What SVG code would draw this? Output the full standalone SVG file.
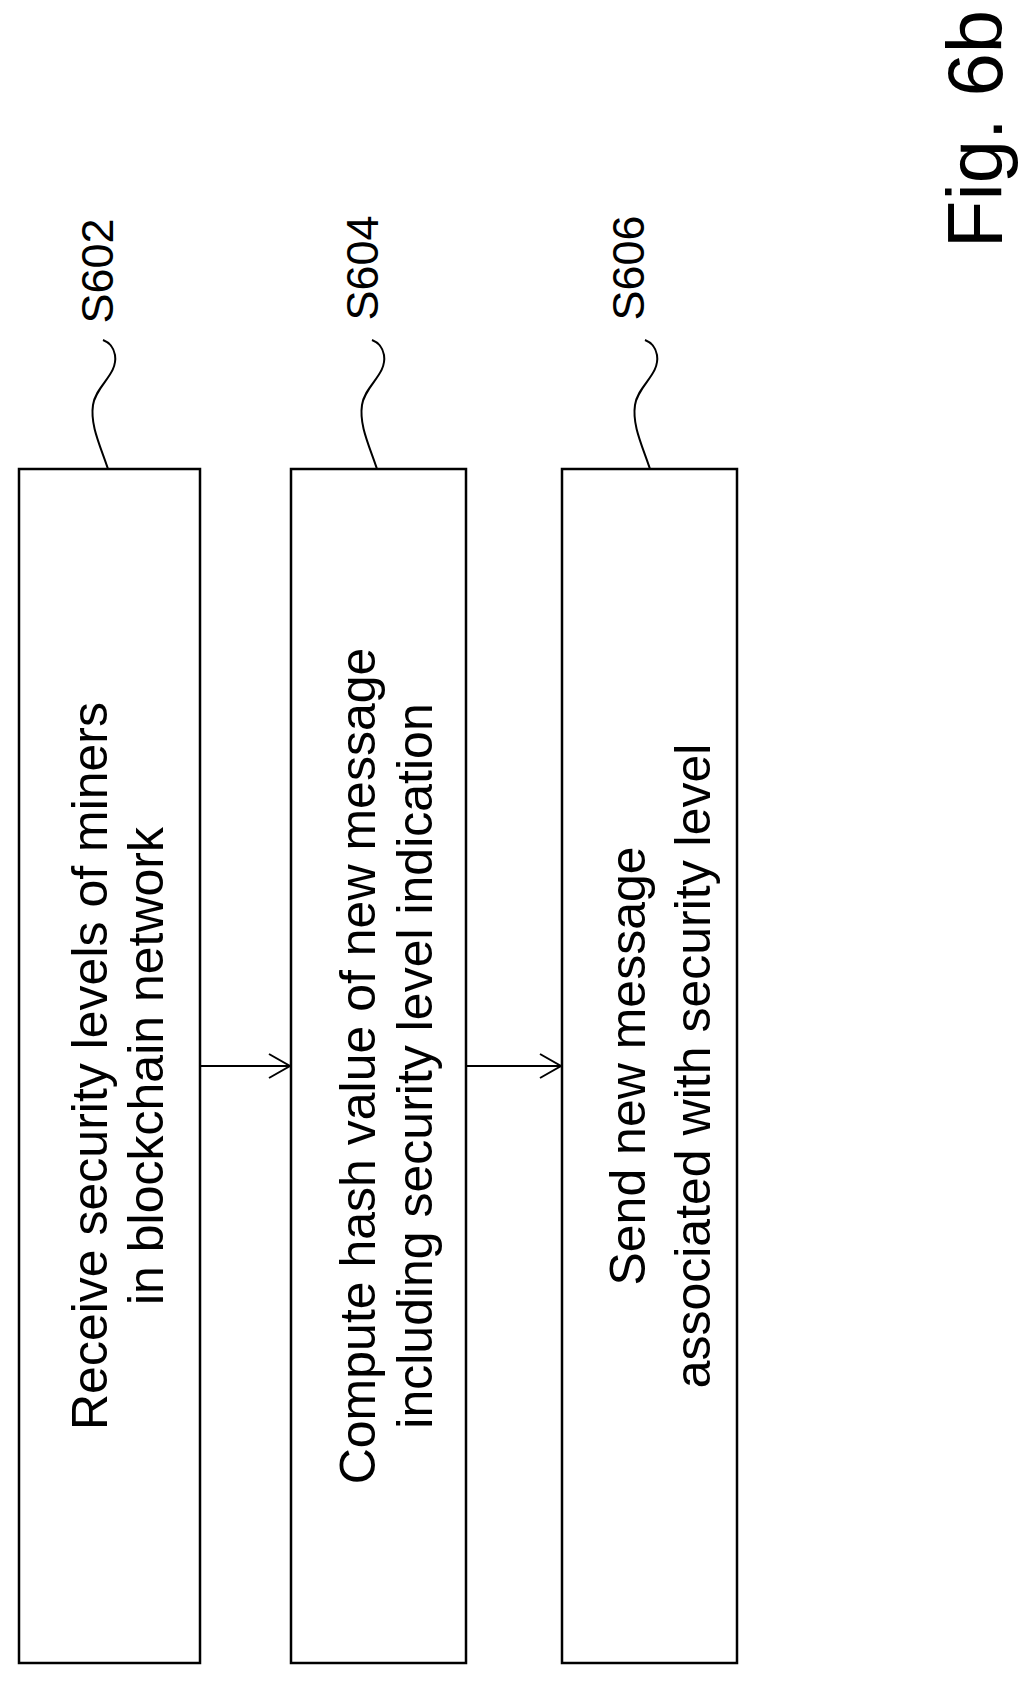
<svg xmlns="http://www.w3.org/2000/svg" width="1031" height="1691" viewBox="0 0 1031 1691">
<style>
.b{fill:#fff;stroke:#000;stroke-width:2.5}
.t{font-family:"Liberation Sans",Arial,sans-serif;font-size:50px;text-anchor:middle;fill:#000}
.l{font-family:"Liberation Sans",Arial,sans-serif;font-size:45px;text-anchor:middle;fill:#000}
.s{fill:none;stroke:#000;stroke-width:2}
</style>
<defs><marker id="a" markerWidth="24" markerHeight="26" refX="22" refY="13" orient="auto" markerUnits="userSpaceOnUse"><path d="M1,1 L22,13 L1,25" fill="none" stroke="#000" stroke-width="2"/></marker></defs>
<rect width="1031" height="1691" fill="#fff"/>
<g id="S602">
<rect class="b" x="19" y="469" width="181" height="1194"/>
<text class="t" transform="translate(107,1066) rotate(-90)">Receive security levels of miners</text>
<text class="t" transform="translate(163,1066) rotate(-90)">in blockchain network</text>
<path class="s" d="M108,469 C100,445 90,425 93,405 C96,385 118,375 115,355 C113,345 108,342 103,340"/>
<text class="l" transform="translate(113,271) rotate(-90)">S602</text>
</g>
<g id="S604">
<rect class="b" x="291" y="469" width="175" height="1194"/>
<text class="t" transform="translate(375,1066) rotate(-90)">Compute hash value of new message</text>
<text class="t" transform="translate(432,1066) rotate(-90)">including security level indication</text>
<path class="s" d="M377,469 C369,445 359,425 362,405 C365,385 387,375 384,355 C382,345 377,342 372,340"/>
<text class="l" transform="translate(378,268) rotate(-90)">S604</text>
</g>
<g id="S606">
<rect class="b" x="562" y="469" width="175" height="1194"/>
<text class="t" transform="translate(645,1066) rotate(-90)">Send new message</text>
<text class="t" transform="translate(710,1066) rotate(-90)">associated with security level</text>
<path class="s" d="M650,469 C642,445 632,425 635,405 C638,385 660,375 657,355 C655,345 650,342 645,340"/>
<text class="l" transform="translate(644,268) rotate(-90)">S606</text>
</g>
<g id="connectors">
<line class="s" x1="200" y1="1066" x2="290" y2="1066" marker-end="url(#a)"/>
<line class="s" x1="466" y1="1066" x2="561" y2="1066" marker-end="url(#a)"/>
</g>
<text font-family="Liberation Sans,Arial,sans-serif" font-size="78" text-anchor="middle" transform="translate(1002,129) rotate(-90)">Fig. 6b</text>
</svg>
